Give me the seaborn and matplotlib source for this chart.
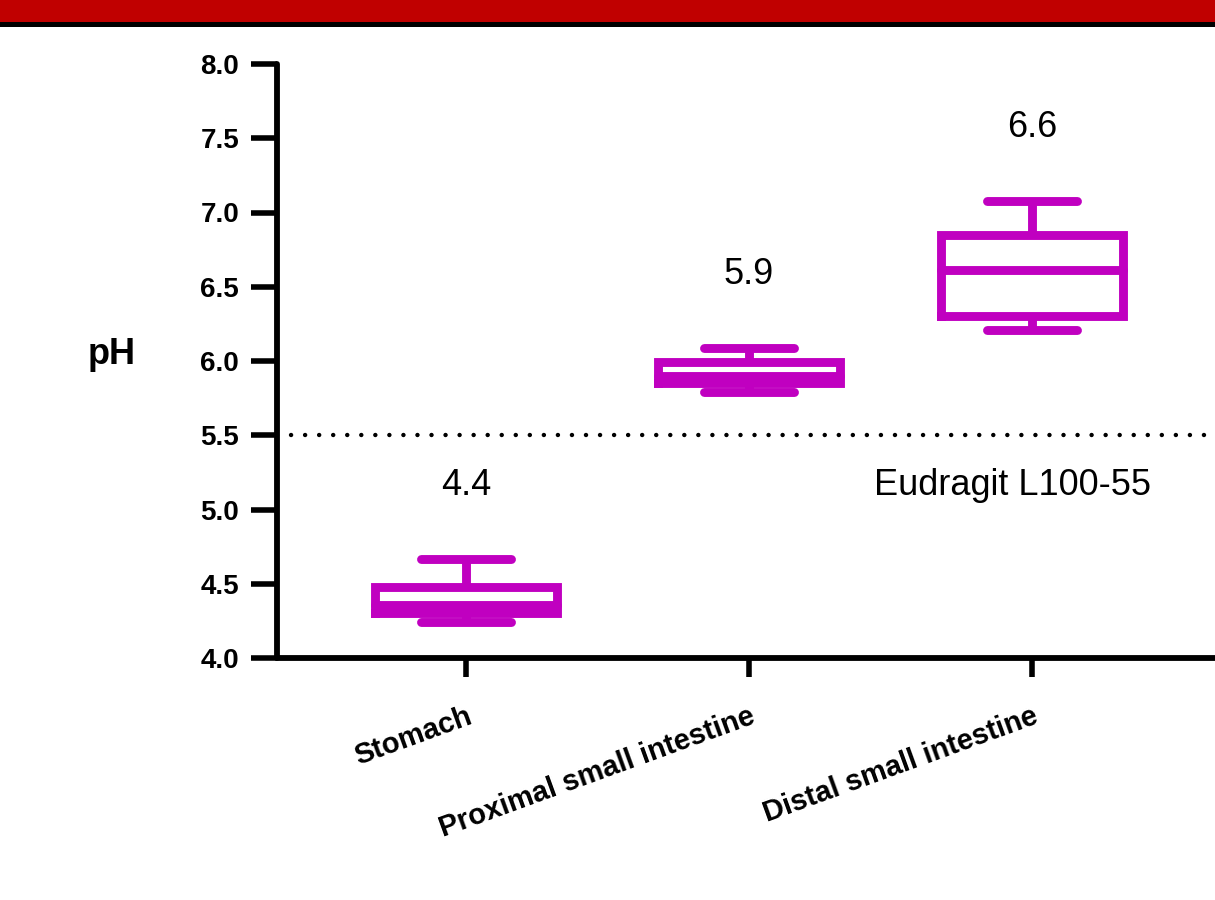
import numpy as np
import pandas as pd
import matplotlib
matplotlib.use("Agg")
import matplotlib.pyplot as plt
from matplotlib.patches import Rectangle
import seaborn as sns

# Gastrointestinal pH by site: five-number summaries (min, Q1, median, Q3, max)
sites = ["Stomach", "Proximal small intestine", "Distal small intestine"]
stomach_ph = [4.24, 4.30, 4.36, 4.48, 4.67]
proximal_ph = [5.79, 5.85, 5.90, 5.99, 6.09]
distal_ph = [6.21, 6.30, 6.61, 6.85, 7.08]

# Dissolution threshold of the enteric polymer
threshold_ph = 5.5
threshold_label = "Eudragit L100-55"
threshold_label_pos = (1.93, 5.16)

y_ticks = [4.0, 4.5, 5.0, 5.5, 6.0, 6.5, 7.0, 7.5, 8.0]

groups = [stomach_ph, proximal_ph, distal_ph]
df = pd.DataFrame({
    "site": np.repeat(sites, [len(g) for g in groups]),
    "pH": np.concatenate(groups),
})

sns.set_theme(style="ticks")
plt.rcParams["font.family"] = ["Liberation Sans", "DejaVu Sans"]
plt.rcParams["text.color"] = "black"
plt.rcParams["axes.labelcolor"] = "black"

W, H = 1215, 900
fig = plt.figure(figsize=(W / 100, H / 100), dpi=100)
fig.patch.set_facecolor("white")

# header band
fig.add_artist(Rectangle((0, 1 - 22 / H), 1, 22 / H, transform=fig.transFigure,
                         facecolor="#C00000", edgecolor="none"))
fig.add_artist(Rectangle((0, 1 - 27 / H), 1, 5 / H, transform=fig.transFigure,
                         facecolor="black", edgecolor="none"))

ax = fig.add_axes([277 / W, 242 / H, 1 - 277 / W, 594 / H])

magenta = "#C000C0"
sns.boxplot(
    data=df, x="site", y="pH", order=sites,
    whis=(0, 100), width=0.64, fill=False, color=magenta, saturation=1,
    linewidth=6.4, ax=ax,
    boxprops=dict(solid_joinstyle="miter", solid_capstyle="projecting"),
    medianprops=dict(solid_capstyle="round"),
    capprops=dict(solid_capstyle="round"),
    whiskerprops=dict(solid_capstyle="butt"),
)

# median values written above each box
for i, vals in enumerate(groups):
    med = np.median(vals)
    ax.text(i, max(vals) + 0.49, f"{med:.1f}", ha="center", va="center",
            fontsize=26, color="black")

# polymer threshold
ax.axhline(threshold_ph, color="black", lw=3.2, linestyle=(0, (0.01, 3.15)),
           dash_capstyle="round", zorder=1)
ax.text(*threshold_label_pos, threshold_label, ha="center", va="center",
        fontsize=26, color="black")

ax.set_xlim(-0.668, (W - 466) / 283)
ax.set_ylim(4.0, 8.0)
ax.set_yticks(y_ticks)
ax.set_yticklabels([f"{t:.1f}" for t in y_ticks], fontsize=20, fontweight="bold")
ax.set_xticks(range(len(sites)))
ax.set_xticklabels(sites, rotation=20, ha="right", va="top",
                   rotation_mode="anchor", fontsize=21, fontweight="bold")

ax.set_xlabel("")
ax.set_ylabel("pH", rotation=0, fontsize=26, fontweight="bold",
              ha="center", va="center", color="black")
ax.yaxis.set_label_coords(-165 / (W - 277), (658 - 355) / 594)

for side in ("top", "right"):
    ax.spines[side].set_visible(False)
for side in ("left", "bottom"):
    ax.spines[side].set_linewidth(4.2)
    ax.spines[side].set_color("black")
    ax.spines[side].set_capstyle("round")

ax.tick_params(axis="y", length=18.7, width=4.0, pad=8.5, colors="black")
ax.tick_params(axis="x", length=13.7, width=4.0, pad=18, colors="black")
ax.set_facecolor("white")

fig.savefig("out.png", dpi=100, facecolor="white")
